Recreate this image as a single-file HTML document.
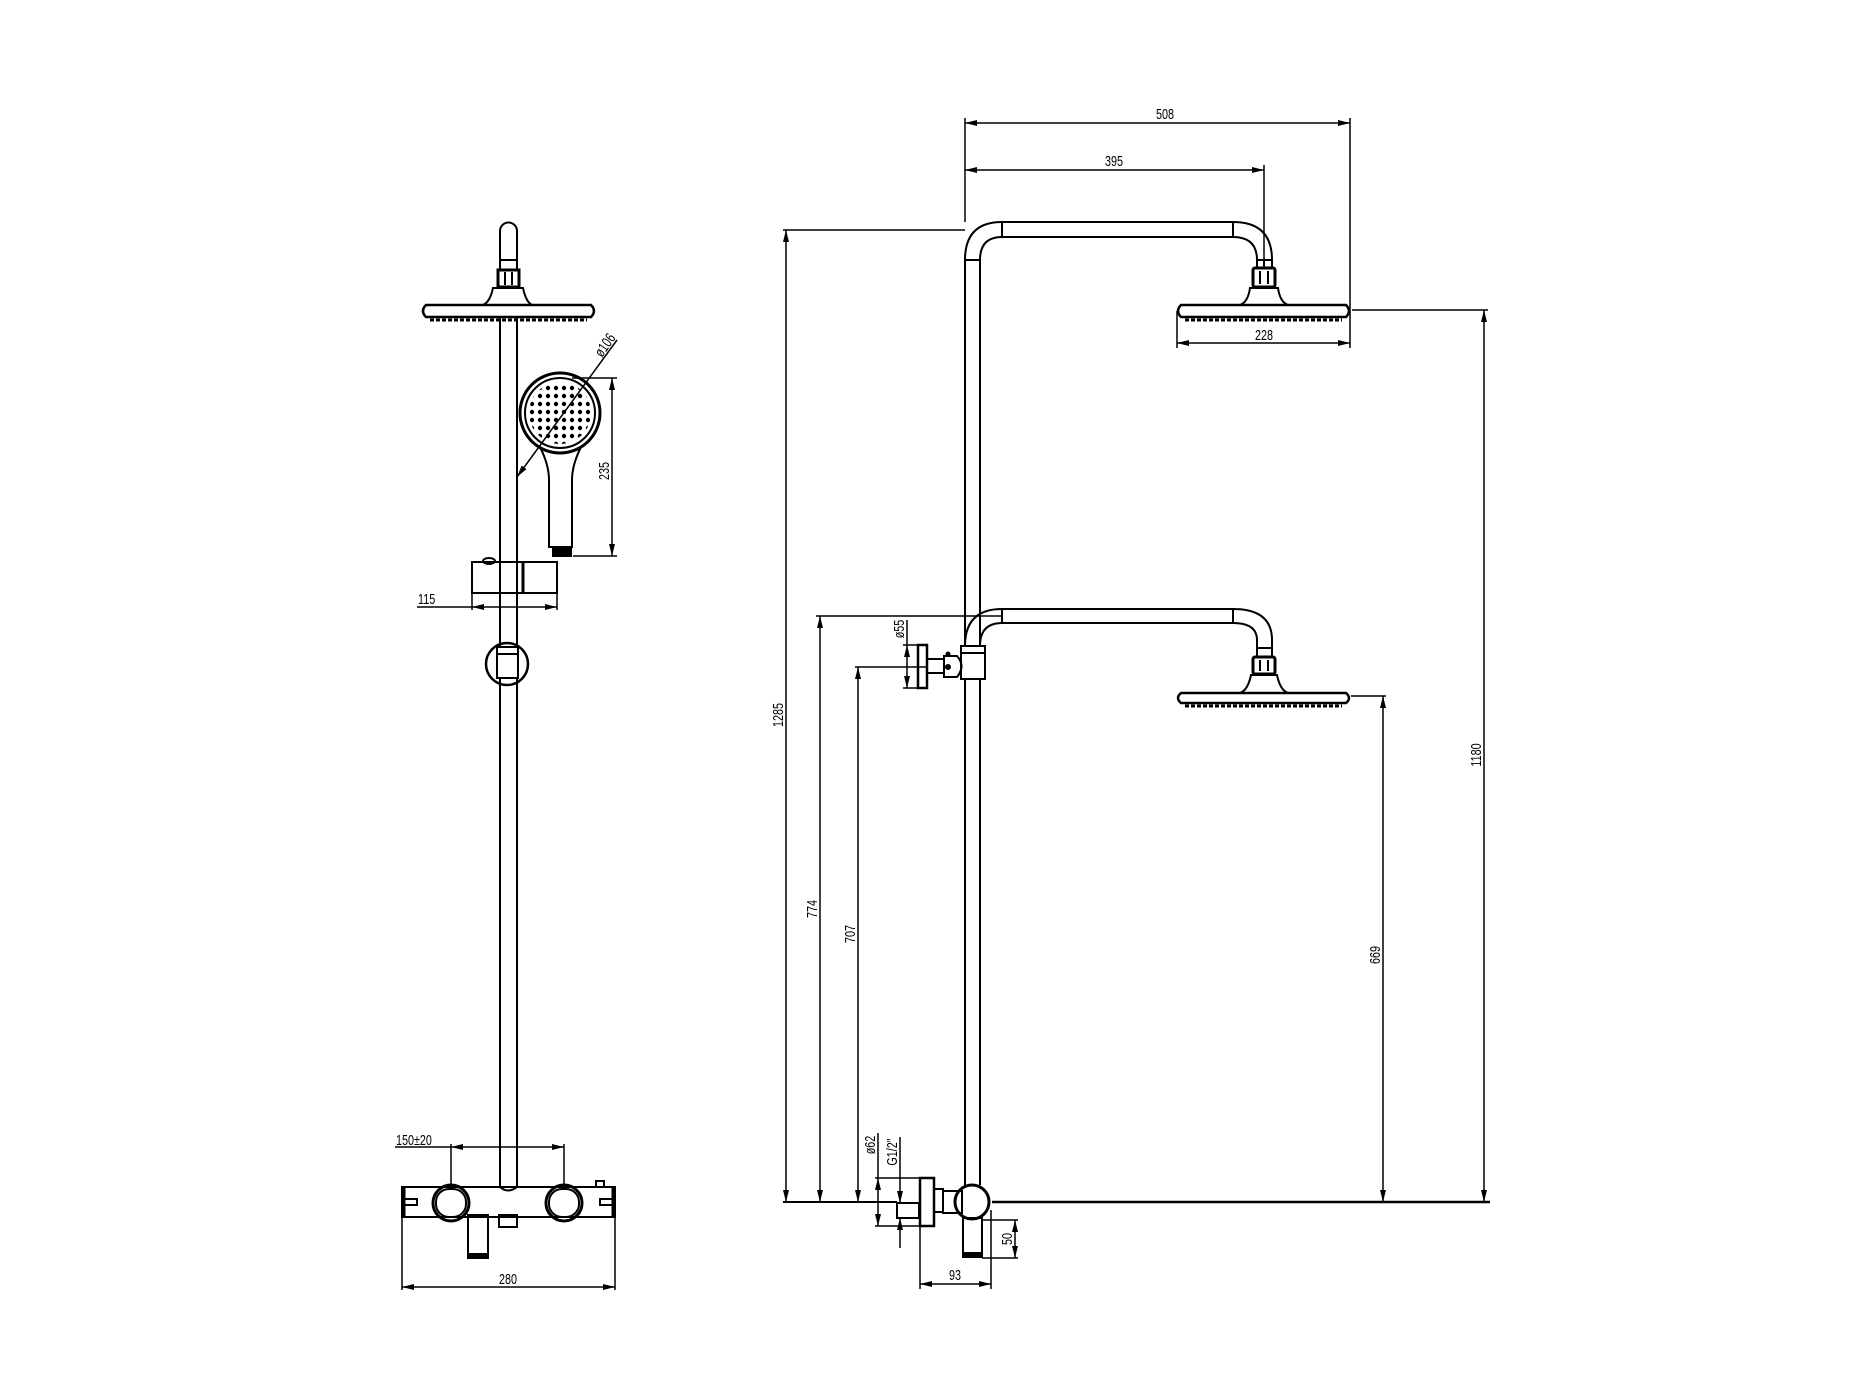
<!DOCTYPE html>
<html><head><meta charset="utf-8">
<style>
html,body{margin:0;padding:0;background:#fff;}
svg{display:block;}
text{font-family:"Liberation Sans",sans-serif;font-size:15px;fill:#000;}
</style></head>
<body>
<svg width="1867" height="1400" viewBox="0 0 1867 1400" xmlns="http://www.w3.org/2000/svg">
<defs>
<marker id="a" viewBox="0 0 12 6" refX="12" refY="3" markerWidth="12" markerHeight="6" markerUnits="userSpaceOnUse" orient="auto-start-reverse">
<path d="M0,0 L12,3 L0,6 z" fill="#000"/></marker>
<pattern id="dots" x="0" y="0" width="8" height="8" patternUnits="userSpaceOnUse">
<circle cx="4" cy="4" r="2.2" fill="#000"/></pattern>
</defs>
<rect width="1867" height="1400" fill="#fff"/>
<g fill="none" stroke="#000" stroke-width="2">

<!-- ===== LEFT VIEW ===== -->
<path d="M500,270 V231 A8.5,8.5 0 0 1 517,231 V270"/>
<line x1="500" y1="260" x2="517" y2="260"/>
<rect x="498" y="270" width="21" height="17" stroke-width="3"/>
<line x1="505" y1="272" x2="505" y2="285"/><line x1="512" y1="272" x2="512" y2="285"/>
<path d="M493,288 H523 Q526,302 532,305 H483 Q490,302 493,288 Z"/>
<path d="M426,305 H591 Q597,311 591,317 H426 Q420,311 426,305 Z" stroke-width="2.5"/>
<line x1="430" y1="320" x2="587" y2="320" stroke-width="3" stroke-dasharray="4,2"/>
<line x1="500" y1="317" x2="500" y2="1188"/>
<line x1="517" y1="317" x2="517" y2="1188"/>
<circle cx="560" cy="413" r="40" stroke-width="3"/>
<circle cx="560" cy="413" r="35"/>
<circle cx="560" cy="413" r="31" fill="url(#dots)" stroke="none"/>
<path d="M540,447 Q549,465 549,480 V547 H572 V480 Q572,465 581,447"/>
<rect x="553" y="547" width="18" height="9" fill="#000"/>
<line x1="517" y1="477" x2="617" y2="340" marker-start="url(#a)" stroke-width="1.5"/>
<line x1="572" y1="378" x2="617" y2="378" stroke-width="1.5"/>
<line x1="573" y1="556" x2="617" y2="556" stroke-width="1.5"/>
<line x1="612" y1="378" x2="612" y2="556" marker-start="url(#a)" marker-end="url(#a)" stroke-width="1.5"/>
<path d="M472,562 H557 V593 H472 Z"/>
<line x1="523" y1="562" x2="523" y2="593" stroke-width="3"/>
<ellipse cx="489" cy="561" rx="6" ry="3"/>
<line x1="472" y1="593" x2="472" y2="610" stroke-width="1.5"/>
<line x1="557" y1="593" x2="557" y2="610" stroke-width="1.5"/>
<line x1="417" y1="607" x2="472" y2="607" stroke-width="1.5"/>
<line x1="472" y1="607" x2="557" y2="607" marker-start="url(#a)" marker-end="url(#a)" stroke-width="1.5"/>
<circle cx="507" cy="664" r="21" stroke-width="2.5"/>
<rect x="497" y="647" width="21" height="31" fill="#fff"/>
<line x1="497" y1="654" x2="518" y2="654"/>
<rect x="402" y="1187" width="213" height="30"/>
<line x1="404" y1="1187" x2="404" y2="1217" stroke-width="3"/>
<line x1="613" y1="1187" x2="613" y2="1217" stroke-width="3"/>
<rect x="404" y="1199" width="13" height="6"/>
<rect x="600" y="1199" width="13" height="6"/>
<circle cx="451" cy="1203" r="18" stroke-width="3"/>
<circle cx="564" cy="1203" r="18" stroke-width="3"/>
<rect x="436" y="1189" width="30" height="28" rx="13" fill="#fff"/>
<rect x="549" y="1189" width="30" height="28" rx="13" fill="#fff"/>
<path d="M500,1187 Q508,1194 517,1187" stroke-width="2"/>
<rect x="596" y="1181" width="8" height="6"/>
<rect x="468" y="1215" width="20" height="43"/>
<line x1="468" y1="1255" x2="488" y2="1255" stroke-width="4"/>
<rect x="499" y="1215" width="18" height="12"/>
<line x1="451" y1="1144" x2="451" y2="1186" stroke-width="1.5"/>
<line x1="564" y1="1144" x2="564" y2="1186" stroke-width="1.5"/>
<line x1="395" y1="1147" x2="451" y2="1147" stroke-width="1.5"/>
<line x1="451" y1="1147" x2="564" y2="1147" marker-start="url(#a)" marker-end="url(#a)" stroke-width="1.5"/>
<line x1="402" y1="1217" x2="402" y2="1290" stroke-width="1.5"/>
<line x1="615" y1="1217" x2="615" y2="1290" stroke-width="1.5"/>
<line x1="402" y1="1287" x2="615" y2="1287" marker-start="url(#a)" marker-end="url(#a)" stroke-width="1.5"/>

<!-- ===== RIGHT VIEW ===== -->
<path d="M965,1185 V260 Q965,222 1002,222 H1233 Q1272,222 1272,260 V268"/>
<path d="M980,646 V260 Q980,237 1002,237 H1233 Q1257,237 1257,260 V268"/>
<line x1="965" y1="260" x2="980" y2="260"/>
<line x1="1002" y1="222" x2="1002" y2="237"/>
<line x1="1233" y1="222" x2="1233" y2="237"/>
<line x1="1257" y1="260" x2="1272" y2="260"/>
<line x1="1264" y1="260" x2="1264" y2="268"/>
<rect x="1253" y="268" width="22" height="19" rx="2" stroke-width="3"/>
<line x1="1260" y1="271" x2="1260" y2="284"/><line x1="1268" y1="271" x2="1268" y2="284"/>
<path d="M1250,288 H1278 Q1280,302 1288,305 H1240 Q1248,302 1250,288 Z"/>
<path d="M1181,305 H1346 Q1352,311 1346,317 H1181 Q1175,311 1181,305 Z" stroke-width="2.5"/>
<line x1="1185" y1="320" x2="1342" y2="320" stroke-width="3" stroke-dasharray="4,2"/>
<path d="M965,646 Q965,609 1002,609 H1233 Q1272,609 1272,640 V657"/>
<path d="M980,646 Q980,623 1002,623 H1233 Q1257,623 1257,640 V657"/>
<line x1="1002" y1="609" x2="1002" y2="623"/>
<line x1="1233" y1="609" x2="1233" y2="623"/>
<line x1="1257" y1="648" x2="1272" y2="648"/>
<rect x="1253" y="657" width="22" height="17" rx="2" stroke-width="3"/>
<line x1="1260" y1="660" x2="1260" y2="671"/><line x1="1268" y1="660" x2="1268" y2="671"/>
<path d="M1251,675 H1277 Q1280,690 1288,693 H1240 Q1248,690 1251,675 Z"/>
<path d="M1181,693 H1346 Q1352,698 1346,703 H1181 Q1175,698 1181,693 Z" stroke-width="2.5"/>
<line x1="1185" y1="706" x2="1342" y2="706" stroke-width="3" stroke-dasharray="4,2"/>
<rect x="961" y="646" width="24" height="33" fill="#fff"/>
<line x1="961" y1="653" x2="985" y2="653"/>
<line x1="965" y1="679" x2="965" y2="1185"/>
<line x1="980" y1="679" x2="980" y2="1185"/>
<path d="M944,656 H957 Q966,666 957,677 H944 Z"/>
<circle cx="948" cy="667" r="2" fill="#000"/>
<circle cx="948" cy="654" r="1.5" fill="#000"/>
<rect x="927" y="659" width="17" height="14"/>
<rect x="918" y="645" width="9" height="43" stroke-width="2.5"/>
<line x1="903" y1="645" x2="918" y2="645" stroke-width="1.5"/>
<line x1="903" y1="688" x2="918" y2="688" stroke-width="1.5"/>
<line x1="907" y1="620" x2="907" y2="645" stroke-width="1.5"/>
<line x1="907" y1="645" x2="907" y2="688" marker-start="url(#a)" marker-end="url(#a)" stroke-width="1.5"/>
<circle cx="972" cy="1202" r="17" stroke-width="3"/>
<rect x="963" y="1218" width="19" height="39"/>
<line x1="963" y1="1254" x2="982" y2="1254" stroke-width="4"/>
<rect x="943" y="1191" width="19" height="22"/>
<rect x="934" y="1189" width="9" height="23"/>
<rect x="920" y="1178" width="14" height="48" stroke-width="2.5"/>
<rect x="897" y="1203" width="22" height="15"/>
<line x1="783" y1="1202" x2="897" y2="1202" stroke-width="2"/>
<line x1="992" y1="1202" x2="1490" y2="1202" stroke-width="2.5"/>
<line x1="982" y1="1220" x2="1018" y2="1220" stroke-width="1.5"/>
<line x1="982" y1="1258" x2="1018" y2="1258" stroke-width="1.5"/>
<line x1="1015" y1="1220" x2="1015" y2="1258" marker-start="url(#a)" marker-end="url(#a)" stroke-width="1.5"/>
<line x1="920" y1="1226" x2="920" y2="1289" stroke-width="1.5"/>
<line x1="991" y1="1210" x2="991" y2="1289" stroke-width="1.5"/>
<line x1="920" y1="1284" x2="991" y2="1284" marker-start="url(#a)" marker-end="url(#a)" stroke-width="1.5"/>
<line x1="875" y1="1178" x2="920" y2="1178" stroke-width="1.5"/>
<line x1="875" y1="1226" x2="920" y2="1226" stroke-width="1.5"/>
<line x1="878" y1="1133" x2="878" y2="1178" stroke-width="1.5"/>
<line x1="878" y1="1178" x2="878" y2="1226" marker-start="url(#a)" marker-end="url(#a)" stroke-width="1.5"/>
<line x1="900" y1="1137" x2="900" y2="1203" marker-end="url(#a)" stroke-width="1.5"/>
<line x1="900" y1="1248" x2="900" y2="1218" marker-end="url(#a)" stroke-width="1.5"/>
<line x1="965" y1="118" x2="965" y2="222" stroke-width="1.5"/>
<line x1="1350" y1="118" x2="1350" y2="348" stroke-width="1.5"/>
<line x1="1264" y1="165" x2="1264" y2="260" stroke-width="1.5"/>
<line x1="965" y1="123" x2="1350" y2="123" marker-start="url(#a)" marker-end="url(#a)" stroke-width="1.5"/>
<line x1="965" y1="170" x2="1264" y2="170" marker-start="url(#a)" marker-end="url(#a)" stroke-width="1.5"/>
<line x1="1177" y1="311" x2="1177" y2="348" stroke-width="1.5"/>
<line x1="1177" y1="343" x2="1350" y2="343" marker-start="url(#a)" marker-end="url(#a)" stroke-width="1.5"/>
<line x1="783" y1="230" x2="965" y2="230" stroke-width="1.5"/>
<line x1="786" y1="230" x2="786" y2="1202" marker-start="url(#a)" marker-end="url(#a)" stroke-width="1.5"/>
<line x1="816" y1="616" x2="1002" y2="616" stroke-width="1.5"/>
<line x1="820" y1="616" x2="820" y2="1202" marker-start="url(#a)" marker-end="url(#a)" stroke-width="1.5"/>
<line x1="855" y1="667" x2="927" y2="667" stroke-width="1.5"/>
<line x1="858" y1="667" x2="858" y2="1202" marker-start="url(#a)" marker-end="url(#a)" stroke-width="1.5"/>
<line x1="1352" y1="310" x2="1488" y2="310" stroke-width="1.5"/>
<line x1="1484" y1="310" x2="1484" y2="1202" marker-start="url(#a)" marker-end="url(#a)" stroke-width="1.5"/>
<line x1="1351" y1="696" x2="1386" y2="696" stroke-width="1.5"/>
<line x1="1383" y1="696" x2="1383" y2="1202" marker-start="url(#a)" marker-end="url(#a)" stroke-width="1.5"/>
</g>

<g>
<text transform="translate(1165,119) scale(0.72,1)" text-anchor="middle">508</text>
<text transform="translate(1114,166) scale(0.72,1)" text-anchor="middle">395</text>
<text transform="translate(1264,340) scale(0.72,1)" text-anchor="middle">228</text>
<text transform="translate(508,1284) scale(0.72,1)" text-anchor="middle">280</text>
<text transform="translate(396,1145) scale(0.72,1)">150±20</text>
<text transform="translate(418,604) scale(0.72,1)">115</text>
<text transform="translate(609,471) rotate(-90) scale(0.72,1)" text-anchor="middle">235</text>
<text transform="translate(602,358) rotate(-55) scale(0.72,1)">ø106</text>
<text transform="translate(783,715) rotate(-90) scale(0.72,1)" text-anchor="middle">1285</text>
<text transform="translate(817,909) rotate(-90) scale(0.72,1)" text-anchor="middle">774</text>
<text transform="translate(855,934) rotate(-90) scale(0.72,1)" text-anchor="middle">707</text>
<text transform="translate(1481,755) rotate(-90) scale(0.72,1)" text-anchor="middle">1180</text>
<text transform="translate(1380,955) rotate(-90) scale(0.72,1)" text-anchor="middle">669</text>
<text transform="translate(904,629) rotate(-90) scale(0.72,1)" text-anchor="middle">ø55</text>
<text transform="translate(875,1145) rotate(-90) scale(0.72,1)" text-anchor="middle">ø62</text>
<text transform="translate(897,1152) rotate(-90) scale(0.72,1)" text-anchor="middle">G1/2"</text>
<text transform="translate(1012,1239) rotate(-90) scale(0.72,1)" text-anchor="middle">50</text>
<text transform="translate(955,1280) scale(0.72,1)" text-anchor="middle">93</text>
</g>
</svg>
</body></html>
